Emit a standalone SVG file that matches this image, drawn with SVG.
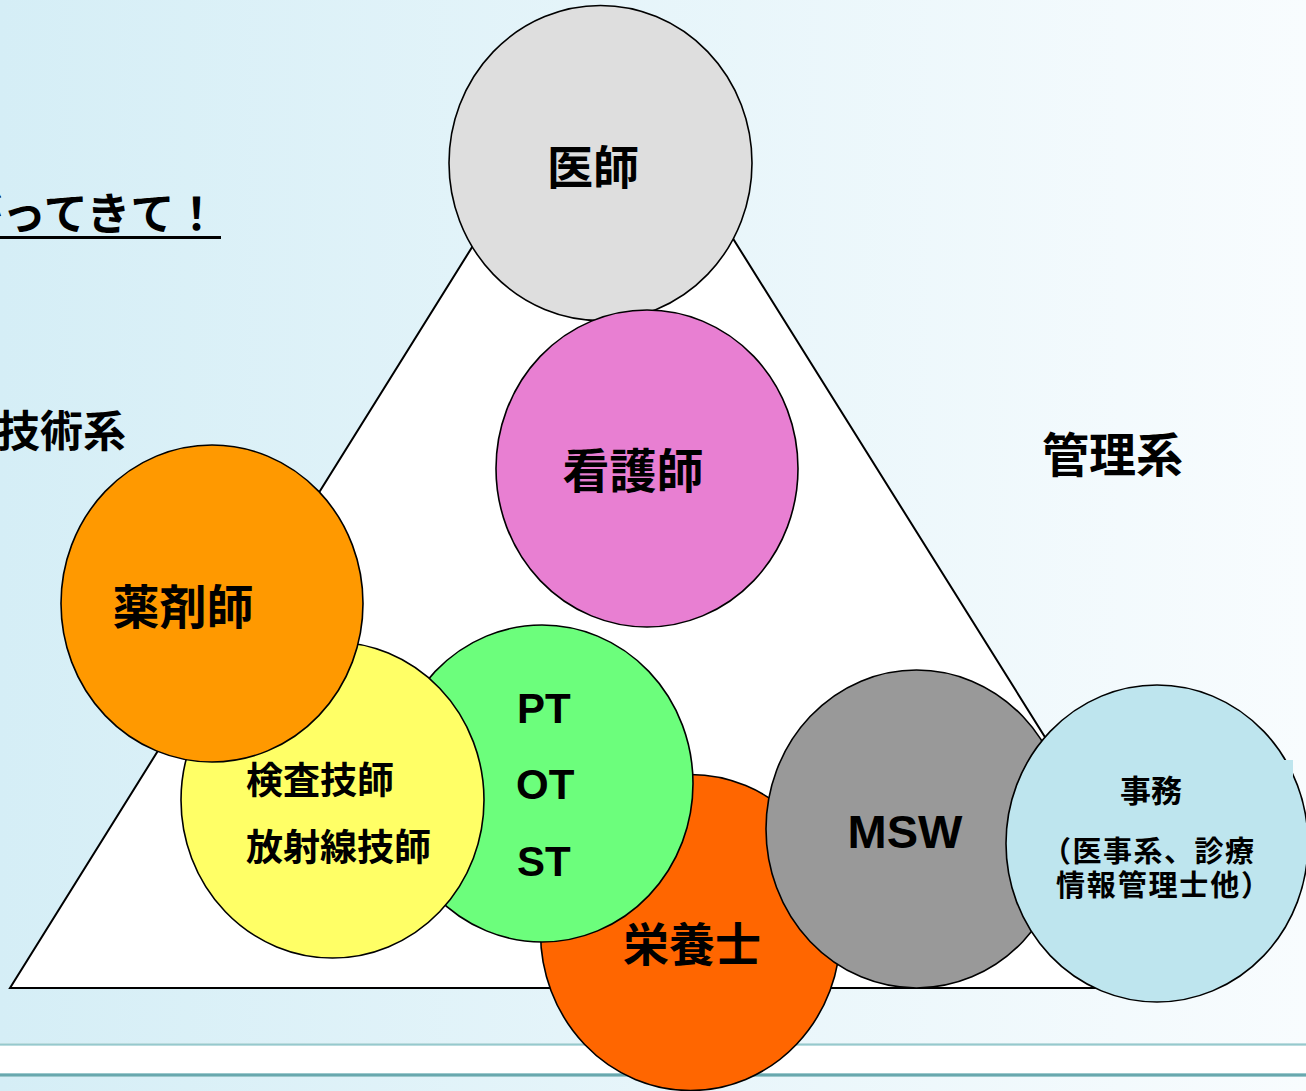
<svg xmlns="http://www.w3.org/2000/svg" width="1306" height="1091" viewBox="0 0 1306 1091">
<defs>
<linearGradient id="bg" x1="0" y1="0" x2="1" y2="0">
<stop offset="0" stop-color="#d5eef6"/>
<stop offset="1" stop-color="#f8fcfe"/>
</linearGradient>
<linearGradient id="ln1" x1="0" y1="0" x2="0" y2="1">
<stop offset="0" stop-color="#cfe6e8"/>
<stop offset="0.5" stop-color="#96c9cd"/>
<stop offset="1" stop-color="#cfe6e8"/>
</linearGradient>
<linearGradient id="ln2" x1="0" y1="0" x2="0" y2="1">
<stop offset="0" stop-color="#b5d8db"/>
<stop offset="0.5" stop-color="#4f989f"/>
<stop offset="1" stop-color="#b5d8db"/>
</linearGradient>
</defs>
<style>
.c{stroke:#000;stroke-width:1.6}
.j{font-family:"Noto Sans CJK JP","Noto Sans CJK SC",sans-serif;font-weight:bold;fill:#000}
.l{font-family:"Liberation Sans",Arial,sans-serif;font-weight:bold;fill:#000}
</style>
<rect x="0" y="0" width="1306" height="1091" fill="url(#bg)"/>
<rect x="0" y="1043" width="1306" height="3" fill="url(#ln1)"/>
<rect x="0" y="1046" width="1306" height="27" fill="#ffffff"/>
<rect x="0" y="1073" width="1306" height="4" fill="url(#ln2)"/>

<g id="heading">
<text class="j" x="-42" y="230" font-size="44">がってきて！</text>
<rect x="0" y="236" width="221" height="3" fill="#000"/>
</g>
<g id="label-gijutsu"><text class="j" x="-3" y="447" font-size="43">技術系</text></g>
<g id="label-kanri"><text class="j" x="1042" y="472" font-size="47">管理系</text></g>

<g id="triangle"><polygon points="605,34 10,988 1202,988" fill="#ffffff" stroke="#000" stroke-width="2"/></g>

<g id="connectors"></g>

<g id="ishi">
<ellipse class="c" cx="600.5" cy="163" rx="151.5" ry="157.5" fill="#dedede"/>
<text class="j" x="593" y="184" font-size="46" text-anchor="middle">医師</text>
</g>
<g id="kangoshi">
<ellipse class="c" cx="647" cy="468.5" rx="151" ry="158.5" fill="#e87fd2"/>
<text class="j" x="633" y="488" font-size="47" text-anchor="middle">看護師</text>
</g>
<g id="eiyoshi">
<ellipse class="c" cx="690.5" cy="932.5" rx="150" ry="158" fill="#ff6600"/>
<text class="j" x="692" y="961" font-size="46" text-anchor="middle">栄養士</text>
</g>
<g id="reha">
<ellipse class="c" cx="542" cy="783.5" rx="151" ry="158.5" fill="#6cfe7c"/>
<text class="l" x="517" y="723" font-size="42">PT</text>
<text class="l" x="516" y="799" font-size="42">OT</text>
<text class="l" x="517" y="876" font-size="42">ST</text>
</g>
<g id="kensa">
<ellipse class="c" cx="332.5" cy="800" rx="151.5" ry="158" fill="#ffff66"/>
<text class="j" x="246" y="794" font-size="37">検査技師</text>
<text class="j" x="246" y="861" font-size="37">放射線技師</text>
</g>
<g id="yakuzaishi">
<ellipse class="c" cx="212" cy="603.5" rx="151" ry="158.5" fill="#ff9900"/>
<text class="j" x="183" y="624" font-size="47" text-anchor="middle">薬剤師</text>
</g>
<g id="msw">
<ellipse class="c" cx="916.5" cy="829" rx="150.5" ry="159" fill="#999999"/>
<text class="l" x="905" y="848" font-size="47" text-anchor="middle">MSW</text>
</g>
<g id="jimu">
<ellipse class="c" cx="1157" cy="843.5" rx="151" ry="158.5" fill="#bee5ee"/>
<rect x="1268" y="760" width="25" height="40" fill="#bee5ee"/>
<text class="j" x="1151" y="802" font-size="31" text-anchor="middle">事務</text>
<text class="j" x="1042" y="862" font-size="29" textLength="212" lengthAdjust="spacing">（医事系、診療</text>
<text class="j" x="1056" y="896" font-size="29" textLength="214" lengthAdjust="spacing">情報管理士他）</text>
</g>
</svg>
